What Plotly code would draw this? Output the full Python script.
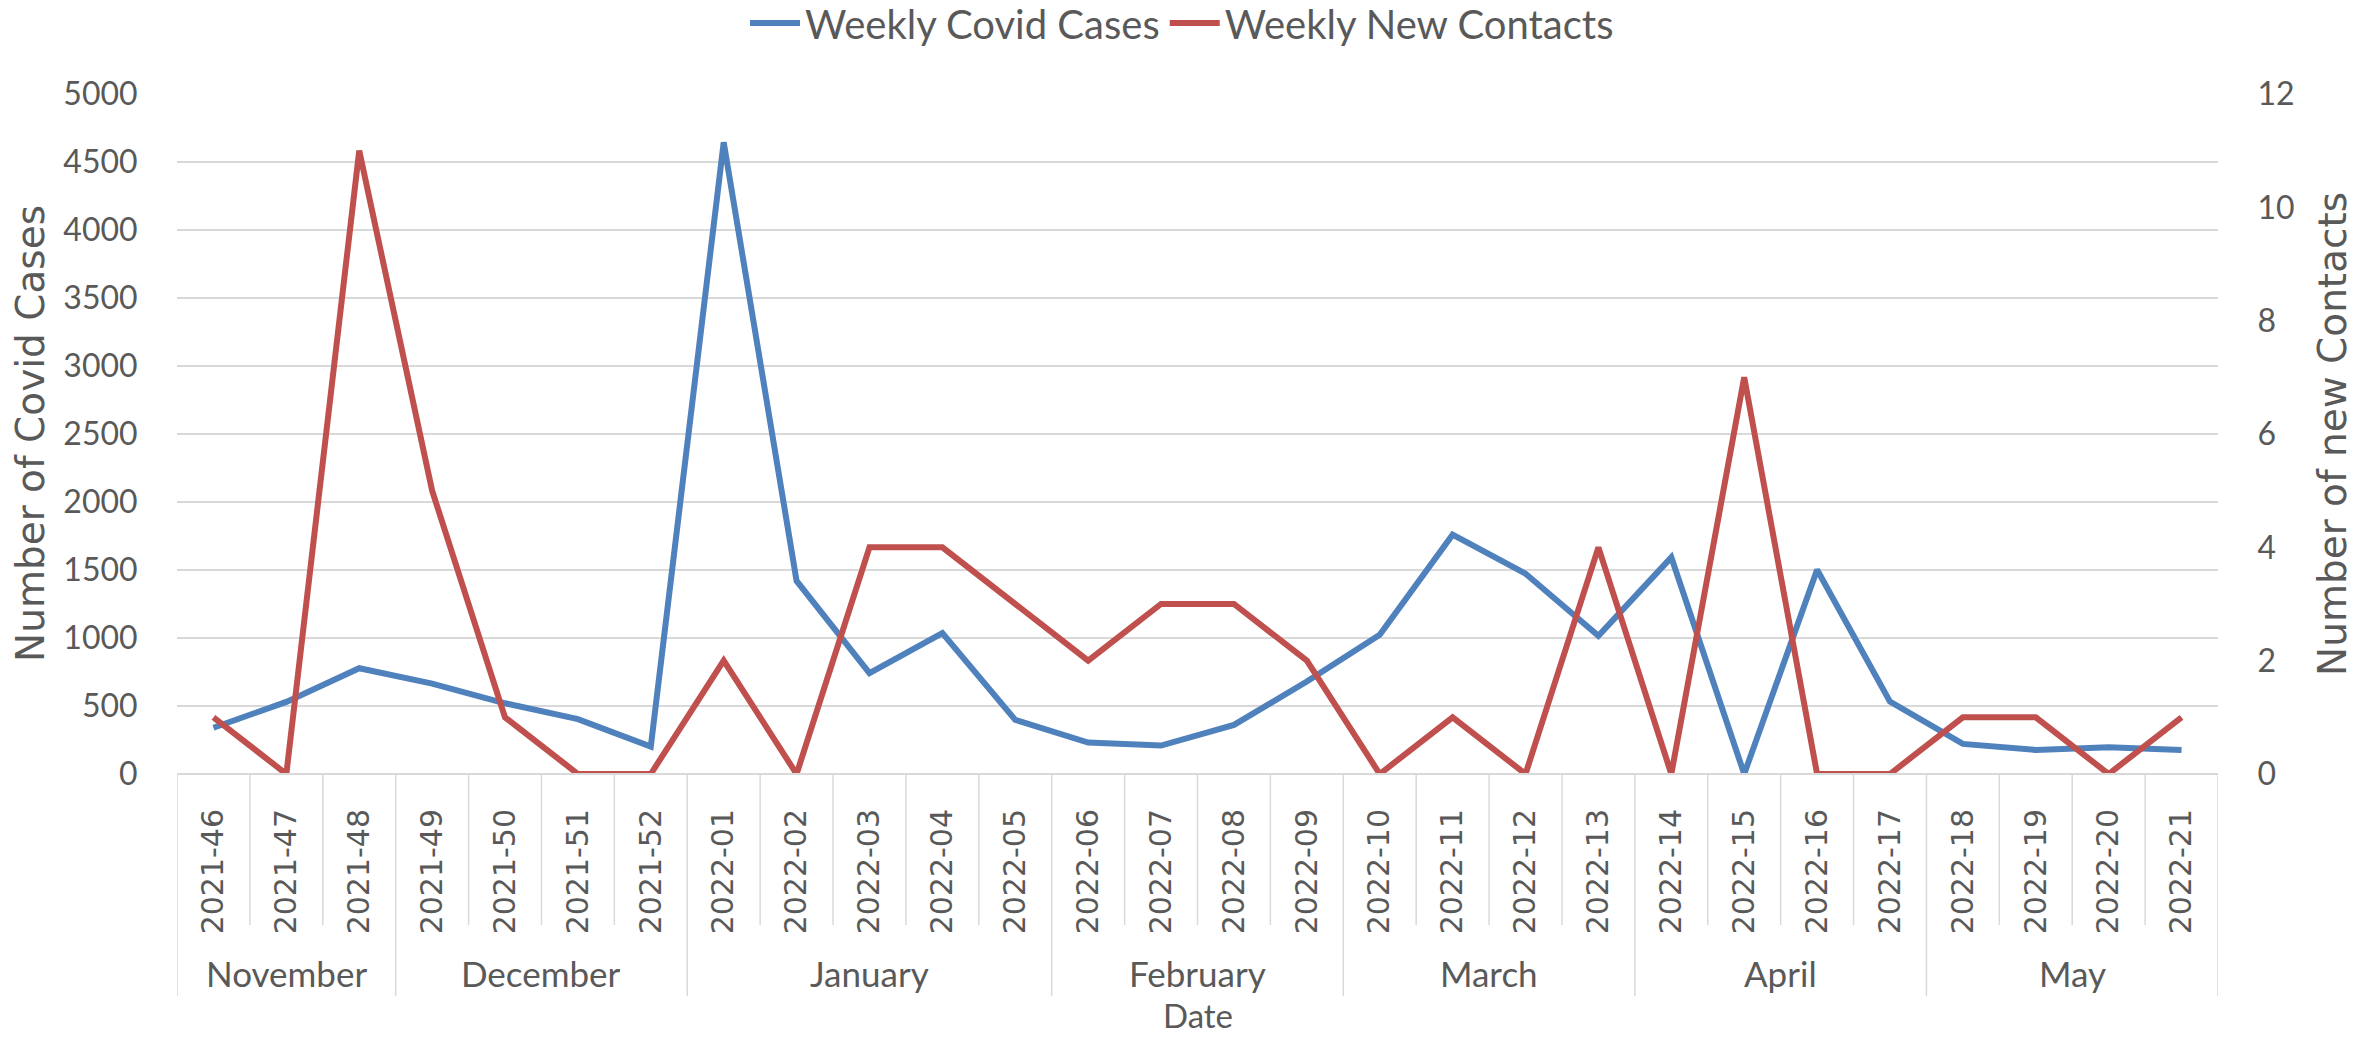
import plotly.graph_objects as go

weeks = ["2021-46", "2021-47", "2021-48", "2021-49", "2021-50", "2021-51", "2021-52",
         "2022-01", "2022-02", "2022-03", "2022-04", "2022-05", "2022-06", "2022-07",
         "2022-08", "2022-09", "2022-10", "2022-11", "2022-12", "2022-13", "2022-14",
         "2022-15", "2022-16", "2022-17", "2022-18", "2022-19", "2022-20", "2022-21"]
months = ["November", "December", "January", "February", "March", "April", "May"]
month_counts = [3, 4, 5, 4, 4, 4, 4]

covid_cases = [340, 530, 778, 665, 520, 403, 201,
               4645, 1420, 741, 1036, 398, 231, 209,
               361, 680, 1023, 1760, 1473, 1016, 1593,
               0, 1502, 532, 221, 177, 196, 177]
new_contacts = [1, 0, 11, 5, 1, 0, 0,
                2, 0, 4, 4, 3, 2, 3,
                3, 2, 0, 1, 0, 4, 0,
                7, 0, 0, 1, 1, 0, 1]

W, H = 2374, 1038
L, R, T, B = 177, 156, 94, 264
ph = H - T - B
pw = W - L - R

def py(px_below_axis):
    return -px_below_axis / ph

grey = "#595959"
gridc = "#d9d9d9"

fig = go.Figure()
fig.add_trace(go.Scatter(x=weeks, y=covid_cases, name="Weekly Covid Cases", mode="lines",
                         line=dict(color="#4F81BD", width=6), yaxis="y"))
fig.add_trace(go.Scatter(x=weeks, y=new_contacts, name="Weekly New Contacts", mode="lines",
                         line=dict(color="#C0504D", width=6), yaxis="y2"))

shapes = []
shapes.append(dict(type="line", xref="paper", yref="paper", x0=0, x1=1, y0=0, y1=0,
                   line=dict(color=gridc, width=2)))
bounds = [-0.5]
acc = -0.5
for c in month_counts:
    acc += c
    bounds.append(acc)
for i in range(len(weeks) + 1):
    b = i - 0.5
    ybot = py(222) if b in bounds else py(151)
    shapes.append(dict(type="line", xref="x", yref="paper", x0=b, x1=b, y0=0, y1=ybot,
                       line=dict(color=gridc, width=1.5)))

annotations = []
start = 0
for m, c in zip(months, month_counts):
    center = start + (c - 1) / 2
    annotations.append(dict(text=m, x=center, xref="x", y=py(199), yref="paper",
                            showarrow=False, yanchor="middle", xanchor="center",
                            font=dict(family="Lato", size=35, color=grey)))
    start += c
annotations.append(dict(text="Date", x=0.5, xref="paper", y=py(241), yref="paper",
                        showarrow=False, yanchor="middle",
                        font=dict(family="Lato", size=33, color=grey)))
annotations.append(dict(text="Number of Covid Cases", x=(30 - L) / pw, xref="paper",
                        y=0.5, yref="paper", textangle=-90, showarrow=False,
                        xanchor="center", yanchor="middle",
                        font=dict(family="DejaVu Sans", size=39, color=grey)))
annotations.append(dict(text="Number of new Contacts", x=(2332 - L) / pw, xref="paper",
                        y=0.5, yref="paper", textangle=-90, showarrow=False,
                        xanchor="center", yanchor="middle",
                        font=dict(family="DejaVu Sans", size=39, color=grey)))

fig.update_layout(
    width=W, height=H, autosize=False,
    margin=dict(l=L, r=R, t=T, b=B, pad=0, autoexpand=False),
    plot_bgcolor="white", paper_bgcolor="white",
    showlegend=True,
    legend=dict(orientation="h", xref="container", yref="container",
                x=1182 / W, xanchor="center", y=1 - 23 / H, yanchor="middle",
                font=dict(family="Lato", size=40, color=grey), itemwidth=50,
                bgcolor="rgba(0,0,0,0)", tracegroupgap=0),
    xaxis=dict(type="category", categoryorder="array", categoryarray=weeks,
               range=[-0.5, len(weeks) - 0.5], tickangle=-90, automargin=False,
               tickfont=dict(family="DejaVu Sans", size=30, color=grey),
               ticks="outside", ticklen=22, tickcolor="rgba(0,0,0,0)",
               showgrid=False, showline=False, zeroline=False),
    yaxis=dict(range=[0, 5000], dtick=500, tickfont=dict(family="Lato", size=32, color=grey),
               showgrid=True, gridcolor=gridc, gridwidth=2, zeroline=False, showline=False,
               automargin=False,
               ticks="outside", ticklen=32, tickcolor="rgba(0,0,0,0)"),
    yaxis2=dict(range=[0, 12], dtick=2, overlaying="y", side="right",
                tickfont=dict(family="Lato", size=32, color=grey), automargin=False,
                showgrid=False, zeroline=False, showline=False,
                ticks="outside", ticklen=32, tickcolor="rgba(0,0,0,0)"),
    shapes=shapes, annotations=annotations,
)

fig.write_html("out.html", config={"displayModeBar": False},
               post_script="document.body.style.margin='0';document.body.style.overflow='hidden';")
